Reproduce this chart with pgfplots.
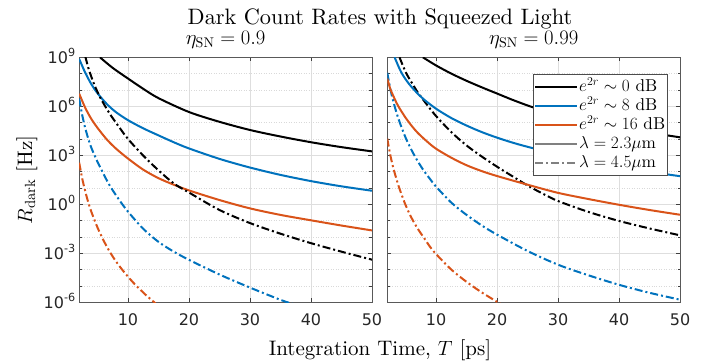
\documentclass[border=0pt]{standalone}
\usepackage{fontspec}
\setmainfont{lmroman10-regular.otf}
\usepackage{pgfplots}
\usepackage{pgfplotstable}
\pgfplotsset{compat=1.18}
\newfontfamily\ticksf{DejaVu Sans}
\definecolor{mblue}{rgb}{0,0.447,0.741}
\definecolor{morange}{rgb}{0.85,0.325,0.098}

% log10 of R_dark [Hz] versus T [ps]
\pgfplotstableread{
T L
5.4 9.0
7.5 8.35
10 7.7
12.5 7.07
15 6.5
20 5.65
25 5.05
30 4.55
35 4.15
40 3.8
45 3.5
50 3.24
}\LbS
\pgfplotstableread{
T L
2 8.9
3 8.05
4 7.35
5 6.8
6.5 6.15
8 5.65
10 5.15
12.5 4.65
15 4.22
17.5 3.8
20 3.42
25 2.78
30 2.25
35 1.8
40 1.42
45 1.1
50 0.83
}\LuS
\pgfplotstableread{
T L
2 6.77
3 5.9
4 5.22
5 4.68
6.5 3.98
8 3.42
10 2.8
12.5 2.12
15 1.6
17.5 1.2
20 0.85
25 0.26
30 -0.25
35 -0.65
40 -0.98
45 -1.3
50 -1.6
}\LoS
\pgfplotstableread{
T L
3.0 9.05
3.5 8.35
4 7.8
4.5 7.3
5.5 6.5
7 5.55
8.5 4.75
10 4.0
12.5 2.98
15 2.08
17.5 1.28
20 0.72
25 -0.35
30 -1.15
35 -1.8
40 -2.38
45 -2.9
50 -3.39
}\LbD
\pgfplotstableread{
T L
2 6.47
2.5 5.45
3 4.65
3.5 4.0
4 3.45
5 2.6
6 1.85
7 1.15
8.5 0.3
10 -0.45
12.5 -1.5
15 -2.3
17.5 -2.9
20 -3.4
25 -4.3
30 -5.1
35 -5.85
37 -6.1
}\LuD
\pgfplotstableread{
T L
2 2.55
2.5 1.57
3 0.78
3.5 0.1
4 -0.47
5 -1.42
6 -2.22
7 -2.9
8 -3.48
9 -3.98
10 -4.43
11 -4.85
12 -5.22
13 -5.58
14 -5.9
14.5 -6.06
}\LoD

\pgfplotstableread{
T L
7.83 9.0
10 8.5
12.5 8.0
15 7.56
17.5 7.16
20 6.78
22.5 6.4
25 6.05
27.5 5.74
30 5.48
35 5.06
40 4.71
45 4.39
50 4.1
}\RbS
\pgfplotstableread{
T L
3.2 9.0
4 8.3
4.57 7.9
5.5 7.4
6.74 6.87
8 6.42
10 5.85
12.5 5.28
15 4.82
17.5 4.42
20 4.08
22.5 3.78
25 3.52
30 3.06
35 2.65
40 2.3
45 1.99
50 1.72
}\RuS
\pgfplotstableread{
T L
2 7.7
2.5 7.05
3 6.62
3.5 6.22
4 5.88
5 5.3
6 4.8
7 4.37
8.5 3.85
10 3.4
12.5 2.85
15 2.39
17.5 2.03
20 1.73
25 1.2
30 0.7
35 0.32
40 -0.03
45 -0.35
50 -0.64
}\RoS
\pgfplotstableread{
T L
4.0 9.0
5 8.1
6 7.45
7 6.85
8.5 6.1
10 5.4
12.5 4.42
15 3.6
17.5 2.92
20 2.3
22.5 1.72
25 1.15
27.5 0.65
30 0.2
35 -0.47
40 -1.02
45 -1.48
50 -1.9
}\RbD
\pgfplotstableread{
T L
2 8.05
2.5 7.05
3 6.28
3.5 5.62
4 5.05
5 4.08
6 3.3
7 2.63
8 2.05
9 1.55
10 1.08
12.5 0.1
15 -0.65
17.5 -1.3
20 -1.86
25 -2.86
30 -3.7
35 -4.35
40 -4.93
45 -5.42
50 -5.84
}\RuD
\pgfplotstableread{
T L
2 4.02
2.5 3.0
3 2.2
3.5 1.55
4 0.95
5 -0.05
6 -0.85
7 -1.5
8 -2.05
9 -2.6
10 -3.05
12.5 -4.0
15 -4.75
17.5 -5.4
20 -5.97
20.5 -6.08
}\RoD

\pgfplotsset{
  panel/.style={
    scale only axis, width=292.8bp, height=245bp,
    xmin=2, xmax=50, ymin=-6, ymax=9,
    xtick={10,20,30,40,50},
    ytick={-6,-3,0,3,6,9},
    minor ytick={-5,-4,-2,-1,1,2,4,5,7,8},
    grid=both,
    major grid style={black!13, line width=0.5bp},
    minor grid style={black!15, line width=0.5bp, dotted},
    tick align=inside,
    major tick length=4bp, minor tick length=2.5bp,
    every tick/.style={black!75, line width=0.5bp},
    axis line style={black!65, line width=0.6bp},
    tick label style={font=\ticksf\fontsize{16bp}{18bp}\selectfont, text=black!85},
    /pgf/number format/assume math mode=true,
    xticklabel style={yshift=-8bp},
    yticklabel style={anchor=base east, yshift=-5.8bp},
    title style={font=\fontsize{20bp}{22bp}\selectfont, anchor=base, at={(0.5,1)}, yshift=6.6bp, inner sep=0pt},
  },
  sol/.style={line width=2bp, smooth, tension=0.5},
  dd/.style={line width=2bp, smooth, tension=0.5, dash pattern=on 8bp off 3bp on 2bp off 3bp},
}

\begin{document}
\begin{tikzpicture}
\path[use as bounding box] (0,0) rectangle (709bp,362bp);

\begin{axis}[panel, at={(79.2bp,59.7bp)}, anchor=south west,
  title={$\eta_{\mathrm{SN}} = 0.9$},
  yticklabels={10\textsuperscript{-6},10\textsuperscript{-3},10\textsuperscript{0},10\textsuperscript{3},10\textsuperscript{6},10\textsuperscript{9}},
]
\addplot[sol, black] table[x=T,y=L] {\LbS};
\addplot[sol, mblue] table[x=T,y=L] {\LuS};
\addplot[sol, morange] table[x=T,y=L] {\LoS};
\addplot[dd, black] table[x=T,y=L] {\LbD};
\addplot[dd, mblue] table[x=T,y=L] {\LuD};
\addplot[dd, morange] table[x=T,y=L] {\LoD};
\end{axis}

\begin{axis}[panel, at={(387.3bp,59.7bp)}, anchor=south west,
  title={$\eta_{\mathrm{SN}} = 0.99$},
  yticklabels={},
  legend cell align=left,
  legend style={at={(0.957,0.93)}, anchor=north east, draw=black!70, line width=0.6bp,
    fill=white, font=\fontsize{17.2bp}{19bp}\selectfont, inner xsep=1bp, inner ysep=3bp,
    nodes={inner sep=1bp, text height=12.5bp, text depth=4.5bp}, row sep=0pt},
  legend image code/.code={\draw[#1] (0bp,0bp) -- (42bp,0bp);},
]
\addplot[dd, black, forget plot] table[x=T,y=L] {\RbD};
\addplot[dd, mblue, forget plot] table[x=T,y=L] {\RuD};
\addplot[dd, morange, forget plot] table[x=T,y=L] {\RoD};
\addplot[sol, black] table[x=T,y=L] {\RbS};
\addplot[sol, mblue] table[x=T,y=L] {\RuS};
\addplot[sol, morange] table[x=T,y=L] {\RoS};
\addlegendimage{line width=2bp, black!50}
\addlegendimage{line width=2bp, black!50, dash pattern=on 8bp off 3bp on 2bp off 3bp}
\legend{$e^{2r}\sim 0$ dB, $e^{2r}\sim 8$ dB, $e^{2r}\sim 16$ dB, $\lambda = 2.3\mu$m, $\lambda = 4.5\mu$m}
\end{axis}

\node[anchor=base, inner sep=0pt, font=\fontsize{22.3bp}{24bp}\selectfont] at (380bp,337.3bp) {Dark Count Rates with Squeezed Light};
\node[anchor=base, inner sep=0pt, font=\fontsize{21bp}{23bp}\selectfont] at (380bp,7bp) {Integration Time, $T$ [ps]};
\node[anchor=base, inner sep=0pt, rotate=90, font=\fontsize{21bp}{23bp}\selectfont] at (32bp,182.2bp) {$R_{\mathrm{dark}}$ [Hz]};
\end{tikzpicture}
\end{document}
